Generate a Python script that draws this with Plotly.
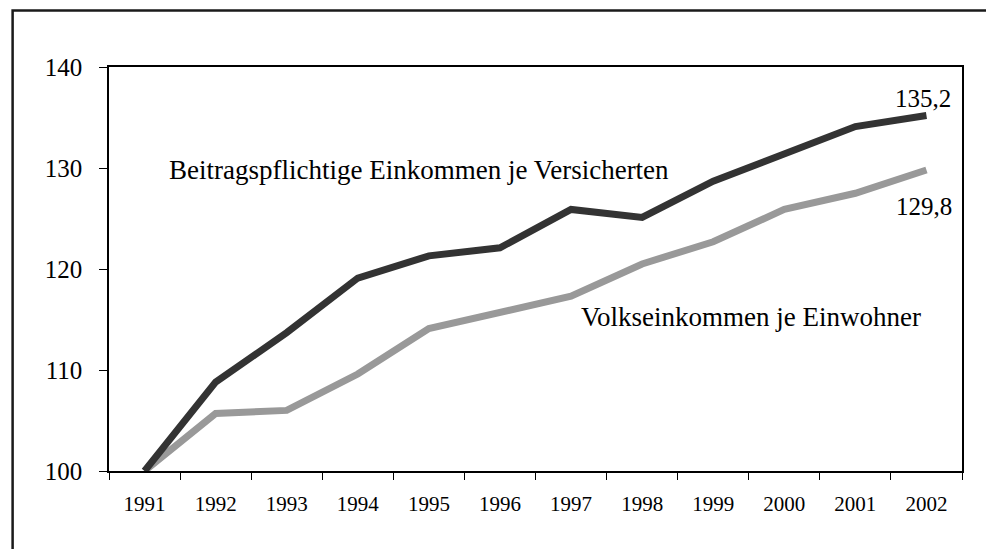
import plotly.graph_objects as go

# Index, 1991 = 100
years = ["1991", "1992", "1993", "1994", "1995", "1996",
         "1997", "1998", "1999", "2000", "2001", "2002"]
beitragspflichtig = [100.0, 108.8, 113.7, 119.1, 121.3, 122.1,
                     125.9, 125.1, 128.7, 131.4, 134.1, 135.2]
volkseinkommen = [100.0, 105.7, 106.0, 109.6, 114.1, 115.7,
                  117.3, 120.5, 122.7, 125.9, 127.5, 129.8]
y_ticks = [100, 110, 120, 130, 140]

FONT = "Liberation Serif"

fig = go.Figure()

fig.add_trace(go.Scatter(
    x=years,
    y=volkseinkommen,
    mode="lines",
    name="Volkseinkommen je Einwohner",
    line=dict(color="#999999", width=7),
    hoverinfo="x+y"
))

fig.add_trace(go.Scatter(
    x=years,
    y=beitragspflichtig,
    mode="lines",
    name="Beitragspflichtige Einkommen je Versicherten",
    line=dict(color="#333333", width=7),
    hoverinfo="x+y"
))

# page body has an 8px margin, so the figure is 8px smaller on each side
fig.update_layout(
    width=986,
    height=541,
    margin=dict(l=101, r=32, t=59, b=78),
    paper_bgcolor="white",
    plot_bgcolor="white",
    showlegend=False,
    font=dict(family=FONT, color="black"),
    xaxis=dict(
        type="category",
        range=[-0.5, 11.5],
        tickson="boundaries",
        ticks="outside",
        ticklen=7,
        tickcolor="black",
        showline=True,
        linecolor="black",
        linewidth=1.5,
        mirror=True,
        showgrid=False,
        zeroline=False,
        tickfont=dict(family=FONT, size=21, color="black"),
        ticklabelstandoff=13,
    ),
    yaxis=dict(
        range=[100, 140],
        tickvals=y_ticks,
        ticks="outside",
        ticklen=8,
        tickcolor="black",
        showline=True,
        linecolor="black",
        linewidth=1.5,
        mirror=True,
        showgrid=False,
        zeroline=False,
        tickfont=dict(family=FONT, size=25, color="black"),
        ticklabelstandoff=12,
    ),
)

# outer frame (runs off the right and bottom edges in the original)
fig.add_shape(
    type="rect", xref="paper", yref="paper",
    x0=-0.113, x1=1.2, y0=-0.4, y1=1.14,
    line=dict(color="#1a1a1a", width=2.5),
)

labels = [
    dict(text="Beitragspflichtige Einkommen je Versicherten",
         x=0.068, y=0.746, xanchor="left", size=27),
    dict(text="Volkseinkommen je Einwohner",
         x=0.551, y=0.382, xanchor="left", size=27),
    dict(text="135,2", x=0.9894, y=0.922, xanchor="right", size=25),
    dict(text="129,8", x=0.9906, y=0.654, xanchor="right", size=25),
]
for lab in labels:
    fig.add_annotation(
        text=lab["text"], x=lab["x"], y=lab["y"],
        xref="paper", yref="paper",
        xanchor=lab["xanchor"], yanchor="middle",
        showarrow=False,
        font=dict(family=FONT, size=lab["size"], color="black"),
    )

fig.write_html("out.html")
